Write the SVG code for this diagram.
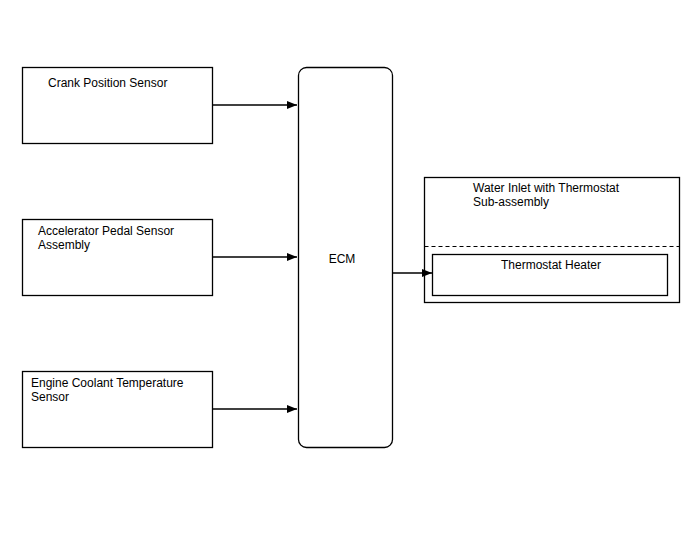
<svg xmlns="http://www.w3.org/2000/svg" width="688" height="560" viewBox="0 0 688 560">
<style>
.box{fill:#fff;stroke:#000;stroke-width:1.3}
.t{font-family:"Liberation Sans",Arial,sans-serif;font-size:12px;fill:#000}
.c{stroke:#000;stroke-width:1.3;fill:none}
</style>
<defs>
<marker id="ah" markerWidth="10" markerHeight="8" refX="10" refY="4" orient="auto" markerUnits="userSpaceOnUse">
<path d="M0,0 L10,4 L0,8 Z" fill="#000"/>
</marker>
</defs>
<rect width="688" height="560" fill="#fff"/>
<g id="crank">
<rect class="box" x="22.5" y="67.5" width="190" height="76"/>
<text class="t" x="48" y="87">Crank Position Sensor</text>
</g>
<g id="accel">
<rect class="box" x="22.5" y="219.5" width="190" height="76"/>
<text class="t" x="38" y="235">Accelerator Pedal Sensor</text>
<text class="t" x="38" y="249">Assembly</text>
</g>
<g id="ect">
<rect class="box" x="22.5" y="371.5" width="190" height="76"/>
<text class="t" x="31" y="387">Engine Coolant Temperature</text>
<text class="t" x="31" y="401">Sensor</text>
</g>
<g id="ecm">
<rect class="box" x="298.5" y="67.5" width="94" height="380" rx="8" ry="8"/>
<text class="t" x="342" y="263" text-anchor="middle">ECM</text>
</g>
<g id="water-inlet">
<rect class="box" x="424.5" y="177.5" width="255" height="125"/>
<text class="t" x="473" y="192">Water Inlet with Thermostat</text>
<text class="t" x="473" y="206">Sub-assembly</text>
<line x1="424.5" y1="246.5" x2="679.5" y2="246.5" stroke="#000" stroke-width="1.2" stroke-dasharray="4,3"/>
</g>
<g id="heater">
<rect class="box" x="432.5" y="254.5" width="235" height="41"/>
<text class="t" x="501" y="269">Thermostat Heater</text>
</g>
<g id="connectors">
<line class="c" x1="212.5" y1="105" x2="297" y2="105" marker-end="url(#ah)"/>
<line class="c" x1="212.5" y1="257" x2="297" y2="257" marker-end="url(#ah)"/>
<line class="c" x1="212.5" y1="409" x2="297" y2="409" marker-end="url(#ah)"/>
<line class="c" x1="392.5" y1="273" x2="432" y2="273" marker-end="url(#ah)"/>
</g>
</svg>
